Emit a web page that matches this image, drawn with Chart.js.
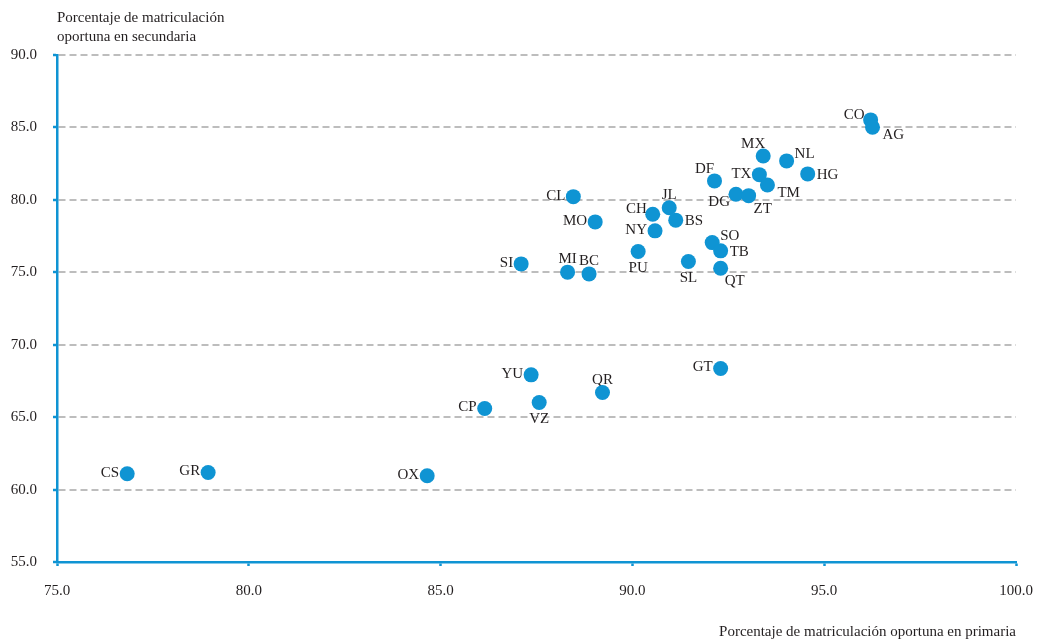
<!DOCTYPE html>
<html>
<head>
<meta charset="utf-8">
<script src="https://cdn.jsdelivr.net/npm/chart.js@4.4.0/dist/chart.umd.min.js"></script>
<style>
  html, body { margin: 0; padding: 0; background: #ffffff; }
  #wrap { width: 1038px; height: 644px; position: relative; }
</style>
</head>
<body>
<div id="wrap"><canvas id="c" width="1038" height="644"></canvas></div>
<script>
// ---- data ----
const states = ['CO','AG','MX','NL','HG','TX','TM','DF','DG','ZT','CL','JL','CH','BS','MO','NY','SO','TB','PU','SL','QT','SI','MI','BC','YU','GT','QR','VZ','CP','CS','GR','OX'];
const primaria = [96.21,96.26,93.41,94.02,94.57,93.31,93.52,92.14,92.70,93.03,88.46,90.96,90.53,91.13,89.03,90.59,92.08,92.30,90.15,91.46,92.30,87.10,88.31,88.87,87.36,92.30,89.22,87.57,86.15,76.83,78.94,84.65];
const secundaria = [85.52,85.01,83.03,82.69,81.79,81.74,81.03,81.31,80.39,80.29,80.22,79.46,79.01,78.60,78.48,77.86,77.05,76.48,76.43,75.74,75.28,75.58,75.01,74.89,67.92,68.36,66.70,66.01,65.60,61.09,61.18,60.95];
const xTicks = [75, 80, 85, 90, 95, 100];
const yTicks = [55, 60, 65, 70, 75, 80, 85, 90];
const yTitle = ['Porcentaje de matriculación', 'oportuna en secundaria'];
const xTitle = 'Porcentaje de matriculación oportuna en primaria';
// label placement relative to its point
const labelSide = ['lt','rb','tl','rt','r','l','rb','tl','lb','br','l','t','lt','r','l','l','rt','r','b','b','br','l','t','t','l','l','t','b','l','l','l','l'];

const sideOffsets = {
  l:  {align: 'right',  dx: -8, dy: -2},
  lt: {align: 'right',  dx: -6, dy: -6},
  lb: {align: 'right',  dx: -6, dy: 7},
  r:  {align: 'left',   dx: 9,  dy: 0},
  rt: {align: 'left',   dx: 8,  dy: -8},
  rb: {align: 'left',   dx: 10, dy: 7},
  t:  {align: 'center', dx: 0,  dy: -14},
  tl: {align: 'center', dx: -10, dy: -13},
  b:  {align: 'center', dx: 0,  dy: 15},
  br: {align: 'center', dx: 14, dy: 12}
};

const FONT = '"Liberation Serif", "DejaVu Serif", serif';
const BLUE = '#0f94d3';
const TEXT = '#231f20';

const points = states.map((s, i) => ({x: primaria[i], y: secundaria[i]}));

const labelPlugin = {
  id: 'pointLabels',
  beforeDatasetsDraw(chart) {
    const ctx = chart.ctx;
    const meta = chart.getDatasetMeta(0);
    ctx.save();
    ctx.font = '15px ' + FONT;
    ctx.fillStyle = TEXT;
    ctx.textBaseline = 'alphabetic';
    meta.data.forEach((el, i) => {
      const o = sideOffsets[labelSide[i]];
      ctx.textAlign = o.align;
      ctx.fillText(states[i], el.x + o.dx, el.y + o.dy + 5);
    });
    ctx.restore();
  }
};

const titlePlugin = {
  id: 'axisTitles',
  afterDraw(chart) {
    const ctx = chart.ctx;
    const area = chart.chartArea;
    ctx.save();
    ctx.font = '15px ' + FONT;
    ctx.fillStyle = TEXT;
    ctx.textBaseline = 'alphabetic';
    ctx.textAlign = 'left';
    ctx.fillText(yTitle[0], area.left, 22);
    ctx.fillText(yTitle[1], area.left, 41);
    ctx.textAlign = 'right';
    ctx.fillText(xTitle, area.right, 636);
    ctx.restore();
  }
};

new Chart(document.getElementById('c'), {
  type: 'scatter',
  data: {
    datasets: [{
      data: points,
      backgroundColor: BLUE,
      borderWidth: 0,
      pointRadius: 7.5,
      pointHoverRadius: 7.5
    }]
  },
  options: {
    responsive: false,
    animation: false,
    events: [],
    layout: { padding: { top: 55, right: 22, bottom: 0, left: 0 } },
    plugins: { legend: { display: false }, tooltip: { enabled: false } },
    scales: {
      x: {
        type: 'linear',
        min: 75, max: 100,
        afterBuildTicks: s => { s.ticks = xTicks.map(v => ({value: v})); },
        afterFit: s => { s.height = 82; s.paddingLeft = 0; s.paddingRight = 0; },
        grid: { drawOnChartArea: false, drawTicks: true, tickLength: 4, tickColor: BLUE, tickWidth: 2.5 },
        border: { display: true, color: BLUE, width: 2.5 },
        ticks: {
          color: TEXT, padding: 16,
          font: { family: FONT, size: 15 },
          callback: v => Number(v).toFixed(1)
        }
      },
      y: {
        type: 'linear',
        min: 55, max: 90,
        afterBuildTicks: s => { s.ticks = yTicks.map(v => ({value: v})); },
        afterFit: s => { s.width = 57; s.paddingTop = 0; s.paddingBottom = 0; },
        grid: {
          drawOnChartArea: true, drawTicks: true, tickLength: 4,
          color: '#bdbdbd', lineWidth: 2,
          tickColor: BLUE, tickWidth: 2.5
        },
        border: { display: true, color: BLUE, width: 2.5, dash: [7, 4] },
        ticks: {
          color: TEXT, padding: 16,
          font: { family: FONT, size: 15 },
          callback: v => Number(v).toFixed(1)
        }
      }
    }
  },
  plugins: [labelPlugin, titlePlugin]
});
</script>
</body>
</html>
